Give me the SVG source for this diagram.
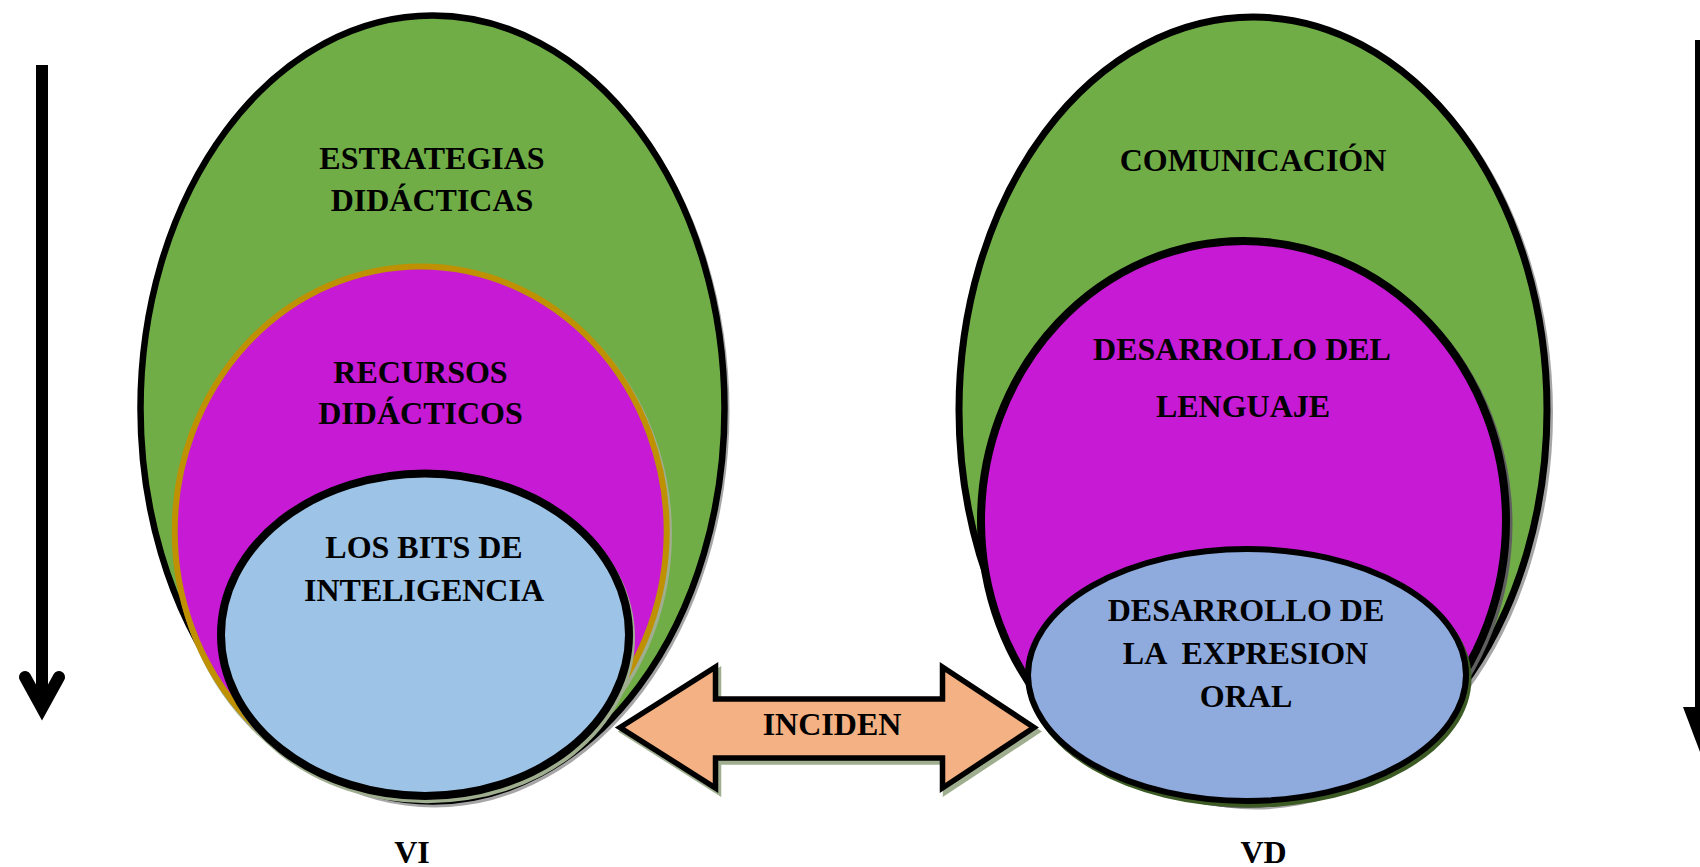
<svg xmlns="http://www.w3.org/2000/svg" width="1700" height="867" viewBox="0 0 1700 867">
<style>
  text { font-family: "Liberation Serif", "Times New Roman", serif; font-weight: bold; font-size: 32px; fill: #000; text-anchor: middle; white-space: pre; }
  .green { fill: #70AD47; stroke: #000; }
  .magL { fill: #C71AD4; stroke: #BF9000; stroke-width: 6; }
  .magR { fill: #C71AD4; stroke: #000; stroke-width: 8; }
  .blueL { fill: #9DC3E6; stroke: #000; stroke-width: 8; }
  .blueR { fill: #8FAADC; stroke: #000; stroke-width: 6; }
  .shGrey { fill: #A6A6A6; }
  .shGreen { fill: #9EAE8E; }
</style>
<rect x="0" y="0" width="1700" height="867" fill="#FFFFFF"/>

<g id="vi-group">
  <g id="estrategias">
    <ellipse class="shGrey" cx="434.5" cy="411.5" rx="295" ry="396"/>
    <ellipse class="green" cx="432.5" cy="408.5" rx="292" ry="393" stroke-width="6.5"/>
    <text x="432" y="168.5">ESTRATEGIAS</text>
    <text x="432" y="211">DIDÁCTICAS</text>
  </g>
  <g id="recursos">
    <ellipse class="shGreen" cx="422.5" cy="534" rx="249.5" ry="268"/>
    <ellipse class="magL" cx="420.7" cy="531" rx="246" ry="264.5"/>
    <text x="420.5" y="383">RECURSOS</text>
    <text x="420.5" y="424">DIDÁCTICOS</text>
  </g>
  <g id="bits">
    <ellipse class="shGreen" cx="427" cy="638" rx="208" ry="165.3"/>
    <ellipse class="blueL" cx="425" cy="634.7" rx="204" ry="161.3"/>
    <text x="424" y="558">LOS BITS DE</text>
    <text x="424" y="601">INTELIGENCIA</text>
  </g>
  <text id="label-vi" x="412" y="863">VI</text>
</g>

<g id="vd-group">
  <g id="comunicacion">
    <ellipse class="shGrey" cx="1255.5" cy="413" rx="297.5" ry="396.5"/>
    <ellipse class="green" cx="1253" cy="410" rx="294" ry="393" stroke-width="7"/>
    <text x="1253" y="171">COMUNICACIÓN</text>
  </g>
  <g id="lenguaje">
    <ellipse fill="#5F5F5F" cx="1246" cy="524" rx="266.5" ry="284"/>
    <ellipse class="magR" cx="1243.5" cy="521" rx="262.5" ry="280"/>
    <text x="1242" y="360">DESARROLLO DEL</text>
    <text x="1243" y="416.5">LENGUAJE</text>
  </g>
  <g id="expresion">
    <ellipse fill="#3C5A23" cx="1249.5" cy="678.5" rx="222" ry="129"/>
    <ellipse class="blueR" cx="1247" cy="675" rx="219" ry="126"/>
    <text x="1246" y="621">DESARROLLO DE</text>
    <text x="1245.5" y="663.5">LA  EXPRESION</text>
    <text x="1246" y="707">ORAL</text>
  </g>
  <text id="label-vd" x="1263.5" y="863">VD</text>
</g>

<g id="connectors">
  <g id="arrow-left">
    <line x1="42" y1="65" x2="42" y2="708" stroke="#000" stroke-width="12"/>
    <path d="M25,677 L42,708 L59,677" fill="none" stroke="#000" stroke-width="12" stroke-linecap="round" stroke-linejoin="miter"/>
  </g>
  <g id="arrow-right">
    <line x1="1700" y1="40" x2="1700" y2="708" stroke="#000" stroke-width="10"/>
    <polygon points="1683,707 1717,707 1700,752" fill="#000"/>
  </g>
  <g id="incide-arrow">
    <path d="M620,727.5 L715.5,667 L715.5,699 L942.5,699 L942.5,667 L1034,727.5 L942.5,788 L942.5,758 L715.5,758 L715.5,788 Z" transform="translate(3,4)" fill="#9EAE8E" stroke="#9EAE8E" stroke-width="5.5"/>
    <path d="M620,727.5 L715.5,667 L715.5,699 L942.5,699 L942.5,667 L1034,727.5 L942.5,788 L942.5,758 L715.5,758 L715.5,788 Z" fill="#F4B183" stroke="#000" stroke-width="5.5" stroke-linejoin="miter"/>
    <text x="832" y="735">INCIDEN</text>
  </g>
</g>
</svg>
